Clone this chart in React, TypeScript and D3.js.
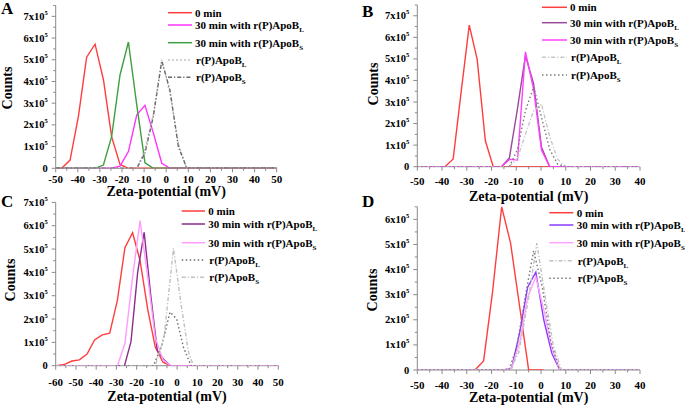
import React from "react";
import * as d3 from "d3";

// ---------- DATA (counts in units of 1e5, x in mV) ----------
// Panel A
const A_RED_X = [-50, -47.3, -43.5, -39.7, -36.0, -32.2, -28.4, -24.7, -20.9, -17.1, 50];
const A_RED_Y = [0, 0, 0.38, 2.4, 5.12, 5.72, 4.08, 1.46, 0.18, 0, 0];
const A_L30_X = [-50, -24.7, -20.9, -17.1, -13.3, -9.6, -5.8, -2.0, 1.7, 50];
const A_L30_Y = [0, 0, 0.1, 0.77, 2.46, 2.9, 1.62, 0.23, 0, 0];
const A_S30_X = [-50, -32.2, -28.4, -24.7, -20.9, -17.1, -13.3, -9.6, -5.8, 50];
const A_S30_Y = [0, 0, 0.15, 1.46, 4.3, 5.82, 2.9, 0.25, 0, 0];
const A_L_X = [-50, -13.3, -9.6, -5.8, -2.0, 1.7, 5.5, 9.3, 50];
const A_L_Y = [0, 0, 0.9, 2.5, 5.0, 3.46, 1.15, 0, 0];
const A_S_X = [-50, -13.3, -9.6, -5.8, -2.0, 1.7, 5.5, 9.3, 50];
const A_S_Y = [0, 0, 0.7, 2.4, 4.95, 3.6, 1.0, 0, 0];

// Panel B
const B_RED_X = [-50, -38.8, -35.5, -32.3, -29.0, -25.8, -22.5, -19.3, 6.7];
const B_RED_Y = [0, 0, 0.36, 3.45, 6.57, 4.98, 1.2, 0, 0];
const B_L30_X = [-50, -16, -12.8, -9.5, -6.3, -3.0, 0.2, 3.5, 40];
const B_L30_Y = [0, 0, 0.4, 2.7, 5.15, 3.85, 0.9, 0, 0];
const B_S30_X = [-50, -16, -12.8, -9.5, -6.3, -3.0, 0.2, 3.5, 40];
const B_S30_Y = [0, 0, 0.34, 0.31, 5.33, 3.6, 0.77, 0, 0];
const B_L_X = [-50, -12.8, -9.5, -6.3, -3.0, 0.2, 3.5, 6.7, 10, 40];
const B_L_Y = [0, 0, 0.4, 1.5, 2.6, 2.9, 1.4, 0.35, 0, 0];
const B_S_X = [-50, -12.8, -9.5, -6.3, -3.0, 0.2, 3.5, 6.7, 10, 40];
const B_S_Y = [0, 0, 0.8, 2.6, 3.7, 2.3, 0.8, 0.12, 0, 0];

// Panel C
const C_RED_X = [-60, -59.5, -55.8, -52, -48.3, -44.5, -40.8, -37, -33.3, -29.5, -25.8, -22, -18.3, -14.5, -10.8, -7, -3.3, 50];
const C_RED_Y = [0, 0, 0.05, 0.2, 0.25, 0.5, 1.1, 1.32, 1.39, 2.81, 5.06, 5.7, 4.5, 2.4, 0.8, 0.15, 0, 0];
const C_L30_X = [-60, -26, -22.8, -19.5, -16.3, -13.0, -9.8, -6.5, -3.3, 50];
const C_L30_Y = [0, 0, 1.03, 4.0, 5.72, 3.0, 0.65, 0.25, 0, 0];
const C_S30_X = [-60, -29.5, -25.8, -22, -18.3, -14.5, -10.8, -7, -3.3, 50];
const C_S30_Y = [0, 0, 0.95, 3.8, 6.22, 3.8, 1.2, 0.25, 0, 0];
const C_L_X = [-60, -11.7, -7.6, -3.5, -0.2, 3.1, 6.9, 50];
const C_L_Y = [0, 0, 0.85, 2.3, 2.0, 0.8, 0, 0];
const C_S_X = [-60, -10.8, -6.5, -1.8, 2.0, 5.6, 8, 50];
const C_S_Y = [0, 0, 1.2, 5.03, 2.6, 0.6, 0, 0];

// Panel D
const D_RED_X = [-50, -26.7, -23.2, -19.6, -15.9, -12.3, -8.6, -5.0, 1];
const D_RED_Y = [0, 0, 0.36, 3.1, 6.5, 5.05, 2.5, 0, 0];
const D_L30_X = [-50, -15.1, -11.9, -8.6, -5.4, -2.1, 1.1, 4.4, 7.6, 40];
const D_L30_Y = [0, 0, 0.07, 1.5, 3.3, 3.9, 2.0, 0.66, 0, 0];
const D_S30_X = [-50, -15.1, -11.9, -8.6, -5.4, -2.1, 1.1, 4.4, 7.6, 40];
const D_S30_Y = [0, 0, 0.07, 1.1, 2.9, 3.7, 2.4, 0.86, 0, 0];
const D_L_X = [-50, -12.5, -9.0, -5.3, -1.7, 1.7, 5.0, 8.3, 40];
const D_L_Y = [0, 0, 0.7, 2.7, 5.05, 2.9, 0.95, 0, 0];
const D_S_X = [-50, -13.0, -9.8, -6.4, -3.0, 0.5, 4.0, 7.5, 40];
const D_S_Y = [0, 0, 0.9, 2.9, 4.75, 3.3, 1.1, 0, 0];

// Tick values
const A_X_TICKS = [-50, -40, -30, -20, -10, 0, 10, 20, 30, 40, 50];
const B_X_TICKS = [-50, -40, -30, -20, -10, 0, 10, 20, 30, 40];
const C_X_TICKS = [-60, -50, -40, -30, -20, -10, 0, 10, 20, 30, 40, 50];
const D_X_TICKS = [-50, -40, -30, -20, -10, 0, 10, 20, 30, 40];
const Y_TICKS_7 = [0, 1, 2, 3, 4, 5, 6, 7];
const Y_TICKS_6 = [0, 1, 2, 3, 4, 5, 6];

// Legend labels
const LEG_0 = "0 min";
const LEG_L30 = "30 min with r(P)ApoB";
const LEG_S30 = "30 min with r(P)ApoB";
const LEG_L = "r(P)ApoB";
const LEG_S = "r(P)ApoB";
const LEG_SUBS = ["", "L", "S", "L", "S"];

const RED = "#ff3d3d";
const FONT = "'Liberation Serif', 'Times New Roman', serif";

type Style = { color: string; dash?: string; width?: number };
type PanelCfg = {
  letter: string; letterX: number; letterY: number;
  xDomain: [number, number]; xRange: [number, number];
  yMax: number; yRange: [number, number];
  xTicks: number[]; yTicks: number[];
  xLabelY: number; titleY: number; countsX: number; countsY: number;
  leg: { x0: number; x1: number; tx: number; rows: number[] };
  series: { x: number[]; y: number[] }[];
  styles: Style[];
};

const panels: PanelCfg[] = [
  {
    letter: "A", letterX: 1, letterY: 14,
    xDomain: [-50, 50], xRange: [55.7, 276.7], yMax: 7.5, yRange: [168.3, 5.5],
    xTicks: A_X_TICKS, yTicks: Y_TICKS_7,
    xLabelY: 183, titleY: 196, countsX: 12, countsY: 88,
    leg: { x0: 168, x1: 192, tx: 195, rows: [12.7, 25, 42.7, 60, 77.3] },
    series: [
      { x: A_RED_X, y: A_RED_Y }, { x: A_L30_X, y: A_L30_Y }, { x: A_S30_X, y: A_S30_Y },
      { x: A_L_X, y: A_L_Y }, { x: A_S_X, y: A_S_Y },
    ],
    styles: [
      { color: RED }, { color: "#ff33ff" }, { color: "#3f9e3f" },
      { color: "#c4c4c4", dash: "2,2" }, { color: "#6a6a6a", dash: "4,2,1.2,2" },
    ],
  },
  {
    letter: "B", letterX: 362, letterY: 17,
    xDomain: [-50, 40], xRange: [417.3, 640], yMax: 7.5, yRange: [166.7, 5],
    xTicks: B_X_TICKS, yTicks: Y_TICKS_7,
    xLabelY: 185, titleY: 201, countsX: 378, countsY: 84,
    leg: { x0: 542, x1: 567, tx: 570, rows: [7.3, 22.7, 40, 57.3, 75] },
    series: [
      { x: B_RED_X, y: B_RED_Y }, { x: B_L30_X, y: B_L30_Y }, { x: B_S30_X, y: B_S30_Y },
      { x: B_L_X, y: B_L_Y }, { x: B_S_X, y: B_S_Y },
    ],
    styles: [
      { color: RED }, { color: "#9a4a9a" }, { color: "#ff40ff" },
      { color: "#c8c8c8", dash: "4,2,1.2,2" }, { color: "#7a7a7a", dash: "1.5,2.5" },
    ],
  },
  {
    letter: "C", letterX: 1, letterY: 207,
    xDomain: [-60, 50], xRange: [55.7, 278.3], yMax: 7, yRange: [365.7, 202.4],
    xTicks: C_X_TICKS, yTicks: Y_TICKS_7,
    xLabelY: 386, titleY: 400.5, countsX: 15, countsY: 280,
    leg: { x0: 181.7, x1: 205, tx: 208.3, rows: [211, 224, 242.7, 260, 277.3] },
    series: [
      { x: C_RED_X, y: C_RED_Y }, { x: C_L30_X, y: C_L30_Y }, { x: C_S30_X, y: C_S30_Y },
      { x: C_L_X, y: C_L_Y }, { x: C_S_X, y: C_S_Y },
    ],
    styles: [
      { color: RED }, { color: "#8a2e8a" }, { color: "#ff9cff" },
      { color: "#6a6a6a", dash: "1.5,2.5" }, { color: "#c0c0c0", dash: "4,2,1.2,2" },
    ],
  },
  {
    letter: "D", letterX: 362, letterY: 207,
    xDomain: [-50, 40], xRange: [417.3, 640], yMax: 6.5, yRange: [370, 206.8],
    xTicks: D_X_TICKS, yTicks: Y_TICKS_6,
    xLabelY: 388.5, titleY: 402, countsX: 376.5, countsY: 290,
    leg: { x0: 549.3, x1: 573.3, tx: 576.7, rows: [212.7, 225, 242.7, 260.7, 278.3] },
    series: [
      { x: D_RED_X, y: D_RED_Y }, { x: D_L30_X, y: D_L30_Y }, { x: D_S30_X, y: D_S30_Y },
      { x: D_L_X, y: D_L_Y }, { x: D_S_X, y: D_S_Y },
    ],
    styles: [
      { color: RED }, { color: "#8a3cff" }, { color: "#ffa3ff" },
      { color: "#c0c0c0", dash: "4,2,1.2,2" }, { color: "#777777", dash: "1.5,2.5" },
    ],
  },
];

const LEG_TEXTS = [LEG_0, LEG_L30, LEG_S30, LEG_L, LEG_S];

function Panel({ p, idx }: { p: PanelCfg; idx: number }) {
  const x = d3.scaleLinear().domain(p.xDomain).range(p.xRange);
  const y = d3.scaleLinear().domain([0, p.yMax]).range(p.yRange);
  const line = d3
    .line<[number, number]>()
    .x((d) => x(d[0]))
    .y((d) => y(d[1]));
  const minorX = d3.range(p.xDomain[0], p.xDomain[1] + 0.001, 5).filter((v) => v % 10 !== 0);
  const minorY = d3.range(0.5, p.yMax + 0.001, 1);
  const axisColor = "#8a8a8a";
  const [x0] = p.xRange;
  const [yb, yt] = p.yRange;
  const clipId = "clip" + idx;
  const lastX = x(p.xDomain[1]);
  return (
    <g>
      <defs>
        <clipPath id={clipId}>
          <rect x={x0} y={yt - 5} width={lastX - x0} height={yb - yt + 5} />
        </clipPath>
      </defs>
      <text x={p.letterX} y={p.letterY} fontSize={17} fontWeight="bold" fontFamily={FONT}>
        {p.letter}
      </text>
      {/* axes */}
      <line x1={x0} x2={x0} y1={yt} y2={yb} stroke={axisColor} strokeWidth={1} />
      <line x1={x0} x2={lastX} y1={yb} y2={yb} stroke={axisColor} strokeWidth={1} />
      {p.xTicks.map((t) => (
        <g key={"xt" + t}>
          <line x1={x(t)} x2={x(t)} y1={yb} y2={yb + 4} stroke={axisColor} />
          <text x={x(t)} y={p.xLabelY} textAnchor="middle" fontSize={11} fontWeight="bold" fontFamily={FONT}>
            {t}
          </text>
        </g>
      ))}
      {minorX.map((t) => (
        <line key={"xm" + t} x1={x(t)} x2={x(t)} y1={yb} y2={yb + 2.5} stroke={axisColor} />
      ))}
      {p.yTicks.map((t) => (
        <g key={"yt" + t}>
          <line x1={x0 - 4} x2={x0} y1={y(t)} y2={y(t)} stroke={axisColor} />
          <text x={x0 - 8} y={y(t) + 3.5} textAnchor="end" fontSize={10.5} fontWeight="bold" fontFamily={FONT}>
            {t === 0 ? (
              "0"
            ) : (
              <>
                <tspan>{t + "x10"}</tspan>
                <tspan fontSize={6.5} dy={-5}>5</tspan>
              </>
            )}
          </text>
        </g>
      ))}
      {minorY.map((t) => (
        <line key={"ym" + t} x1={x0 - 2.5} x2={x0} y1={y(t)} y2={y(t)} stroke={axisColor} />
      ))}
      <text
        x={(x0 + lastX) / 2}
        y={p.titleY}
        textAnchor="middle"
        fontSize={14}
        fontWeight="bold"
        fontFamily={FONT}
      >
        Zeta-potential (mV)
      </text>
      <text
        transform={`translate(${p.countsX},${p.countsY}) rotate(-90)`}
        textAnchor="middle"
        fontSize={14}
        fontWeight="bold"
        fontFamily={FONT}
      >
        Counts
      </text>
      {/* series */}
      <g clipPath={`url(#${clipId})`}>
        {p.series.map((s, i) => {
          const pts = s.x.map((v, k) => [v, s.y[k]] as [number, number]);
          const st = p.styles[i];
          return (
            <path
              key={"s" + i}
              d={line(pts) || ""}
              fill="none"
              stroke={st.color}
              strokeWidth={1.4}
              strokeDasharray={st.dash}
            />
          );
        })}
      </g>
      {/* legend */}
      {LEG_TEXTS.map((lab, i) => {
        const st = p.styles[i];
        const ry = p.leg.rows[i];
        const sub = LEG_SUBS[i];
        return (
          <g key={"lg" + i}>
            <line
              x1={p.leg.x0}
              x2={p.leg.x1}
              y1={ry}
              y2={ry}
              stroke={st.color}
              strokeWidth={1.5}
              strokeDasharray={st.dash}
            />
            <text
              x={i >= 3 ? p.leg.tx + 1 : p.leg.tx}
              y={ry + 3.8}
              fontSize={11}
              fontWeight="bold"
              fontFamily={FONT}
            >
              <tspan>{lab}</tspan>
              {sub ? (
                <tspan fontSize={7} dy={3}>
                  {sub}
                </tspan>
              ) : null}
            </text>
          </g>
        );
      })}
    </g>
  );
}

export default function App() {
  return (
    <svg
      width={685}
      height={407}
      style={{ position: "absolute", left: 0, top: 0, background: "#fff" }}
    >
      <rect width={685} height={407} fill="#fff" />
      {panels.map((p, i) => (
        <Panel key={i} p={p} idx={i} />
      ))}
    </svg>
  );
}
